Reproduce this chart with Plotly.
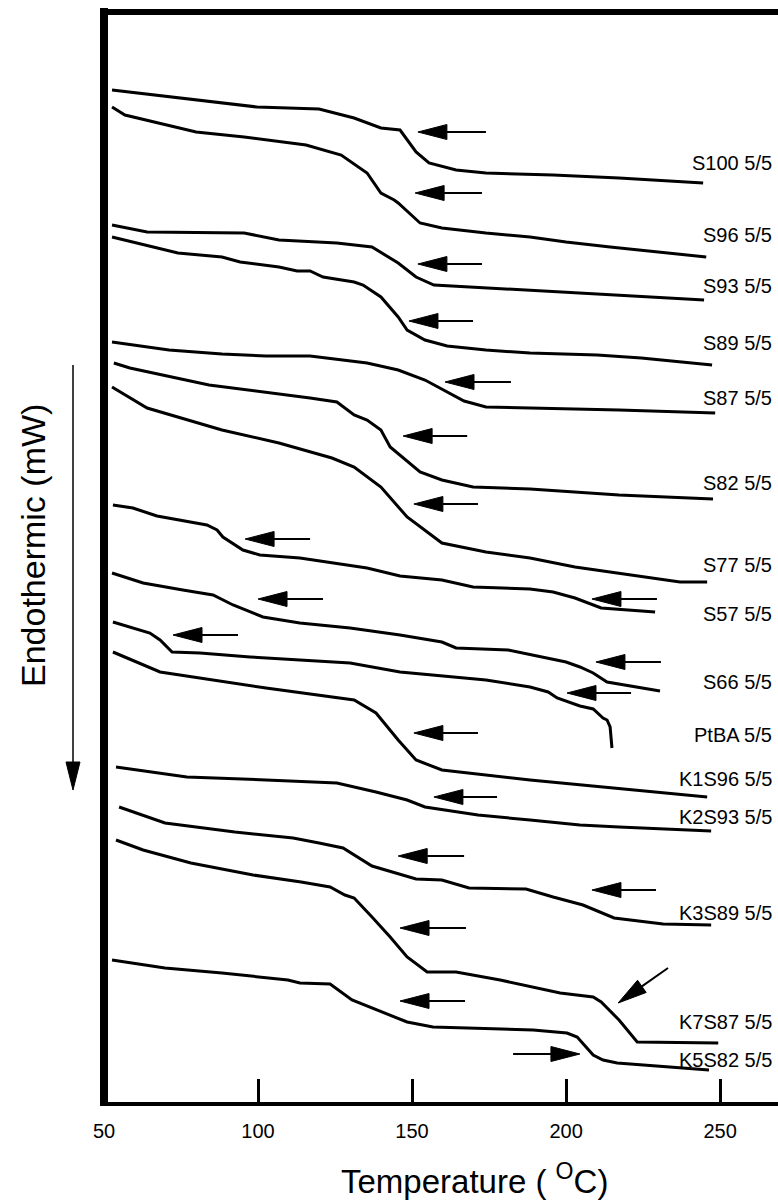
import math
import plotly.graph_objects as go

# ---------------- data: temperature (deg C) and heat flow (arbitrary, offset curves) -------------
T_S100 = [52.6, 79.9, 99.7, 119.8, 131.2, 139.9, 146.1, 151.3, 155.5, 164.3, 174.0, 195.8, 217.2, 244.5]
Q_S100 = [101.3, 100.3, 99.6, 99.4, 98.5, 97.5, 97.3, 95.1, 94.0, 93.3, 93.0, 92.8, 92.5, 92.0]

T_S96 = [52.6, 56.8, 79.9, 95.5, 115.6, 127.0, 135.4, 139.9, 144.2, 145.5, 152.6, 159.7, 174.0, 188.3, 200.0, 214.3, 245.5]
Q_S96 = [99.6, 98.8, 97.1, 96.6, 95.8, 94.8, 93.0, 91.0, 90.3, 90.0, 88.0, 87.5, 87.0, 86.6, 86.1, 85.6, 84.6]

T_S93 = [52.6, 64.0, 95.5, 106.8, 125.6, 137.0, 145.5, 151.3, 157.1, 174.0, 202.9, 244.8]
Q_S93 = [87.8, 87.1, 87.0, 86.3, 86.0, 85.6, 84.0, 82.6, 81.8, 81.5, 81.0, 80.3]

T_S89 = [52.6, 74.0, 88.3, 94.2, 106.8, 112.7, 116.9, 121.1, 131.2, 134.1, 139.9, 145.5, 148.4, 154.2, 161.4, 174.0, 188.3, 210.1, 224.4, 247.4]
Q_S89 = [86.6, 85.0, 84.6, 84.1, 83.6, 83.2, 83.2, 82.6, 82.1, 81.8, 80.6, 78.6, 77.3, 76.3, 75.7, 75.3, 75.0, 74.8, 74.5, 73.8]

T_S87 = [52.6, 71.1, 88.3, 102.6, 116.9, 135.4, 145.5, 154.2, 166.9, 174.0, 188.3, 217.2, 248.4]
Q_S87 = [76.1, 75.3, 74.9, 74.7, 74.7, 74.0, 73.3, 72.3, 70.2, 69.6, 69.5, 69.3, 69.0]

T_S82 = [53.2, 58.4, 84.1, 102.6, 116.9, 125.6, 131.2, 135.4, 139.9, 142.9, 152.6, 159.7, 169.8, 188.3, 217.2, 247.7]
Q_S82 = [74.0, 73.5, 71.8, 71.1, 70.5, 70.1, 68.8, 68.3, 67.3, 65.6, 63.1, 62.3, 61.6, 61.4, 60.8, 60.4]

T_S77 = [52.6, 59.7, 64.0, 88.3, 106.8, 124.0, 131.2, 139.9, 148.4, 159.7, 174.0, 188.3, 202.9, 237.0, 245.8]
Q_S77 = [71.6, 70.3, 69.5, 67.3, 66.0, 64.5, 63.6, 61.6, 58.6, 56.0, 55.1, 54.5, 53.6, 52.1, 52.1]

T_S57 = [52.9, 59.4, 67.2, 75.6, 83.4, 86.7, 88.6, 95.1, 100.6, 113.6, 124.4, 135.4, 146.1, 159.7, 169.8, 188.3, 195.8, 202.9, 211.4, 228.9]
Q_S57 = [59.8, 59.5, 58.7, 58.2, 57.8, 57.3, 56.6, 55.3, 54.8, 54.5, 54.0, 53.5, 52.7, 52.3, 51.6, 51.4, 51.1, 50.5, 49.5, 49.1]

T_S66 = [52.6, 62.7, 75.6, 85.4, 91.9, 101.6, 113.6, 129.9, 146.1, 159.7, 164.3, 181.2, 200.0, 204.5, 208.8, 213.3, 230.5]
Q_S66 = [53.0, 52.0, 51.3, 50.8, 49.8, 48.6, 48.0, 47.5, 46.8, 46.1, 45.5, 45.3, 44.1, 43.6, 43.0, 42.1, 41.2]

T_PTBA = [52.9, 58.4, 64.9, 68.2, 72.1, 81.2, 97.4, 113.6, 129.9, 146.1, 174.0, 188.3, 194.2, 197.1, 204.5, 208.8, 212.0, 213.3, 214.3, 214.9]
Q_PTBA = [48.1, 47.6, 47.0, 46.3, 45.1, 45.0, 44.6, 44.3, 44.0, 43.1, 42.3, 41.6, 41.1, 40.5, 39.7, 39.4, 38.5, 38.3, 37.6, 35.5]

T_K1S96 = [52.9, 68.2, 102.6, 131.2, 138.3, 145.5, 151.3, 159.7, 188.3, 204.5, 231.5, 245.8]
Q_K1S96 = [45.1, 43.1, 41.5, 40.3, 39.0, 36.3, 34.3, 33.3, 32.3, 31.8, 31.0, 30.6]

T_K2S93 = [53.9, 76.9, 102.6, 125.6, 138.3, 148.4, 154.2, 171.4, 188.3, 204.5, 217.2, 247.1]
Q_K2S93 = [33.6, 32.6, 32.3, 32.0, 31.1, 30.3, 29.6, 28.8, 28.3, 27.8, 27.6, 27.2]

T_K3S89 = [54.9, 69.8, 92.5, 111.4, 119.8, 127.6, 137.0, 151.3, 159.7, 168.5, 187.0, 195.8, 205.5, 215.6, 231.5, 247.1]
Q_K3S89 = [29.6, 28.0, 27.1, 26.5, 26.0, 25.5, 23.7, 22.4, 22.3, 21.5, 21.4, 20.6, 19.8, 18.5, 17.9, 17.8]

T_K7S87 = [53.9, 62.7, 78.2, 98.4, 114.0, 123.4, 128.2, 131.2, 137.0, 142.9, 148.4, 154.9, 164.3, 178.6, 198.1, 208.8, 211.4, 217.2, 223.1, 249.4]
Q_K7S87 = [26.3, 25.3, 24.0, 22.8, 22.1, 21.6, 20.8, 20.5, 18.6, 16.6, 14.6, 13.1, 13.1, 12.3, 11.0, 10.6, 10.1, 8.3, 6.1, 6.0]

T_K5S82 = [52.6, 69.8, 88.3, 109.7, 113.6, 123.4, 130.5, 148.4, 156.8, 167.9, 189.3, 200.3, 203.6, 208.8, 212.0, 216.6, 237.0, 246.4]
Q_K5S82 = [14.3, 13.5, 13.0, 12.3, 12.0, 11.9, 10.3, 8.1, 7.6, 7.5, 7.3, 7.0, 6.6, 4.8, 4.3, 4.0, 3.5, 3.3]

CURVE_NAMES = ["S100 5/5", "S96 5/5", "S93 5/5", "S89 5/5", "S87 5/5", "S82 5/5", "S77 5/5",
               "S57 5/5", "S66 5/5", "PtBA 5/5", "K1S96 5/5", "K2S93 5/5", "K3S89 5/5",
               "K7S87 5/5", "K5S82 5/5"]
CURVE_T = [T_S100, T_S96, T_S93, T_S89, T_S87, T_S82, T_S77, T_S57, T_S66, T_PTBA,
           T_K1S96, T_K2S93, T_K3S89, T_K7S87, T_K5S82]
CURVE_Q = [Q_S100, Q_S96, Q_S93, Q_S89, Q_S87, Q_S82, Q_S77, Q_S57, Q_S66, Q_PTBA,
           Q_K1S96, Q_K2S93, Q_K3S89, Q_K7S87, Q_K5S82]
LABEL_Q = [94.0, 86.8, 81.7, 76.0, 70.5, 62.0, 53.8, 48.9, 42.1, 36.8, 32.4, 28.6, 19.0, 8.1, 4.3]

# Tg marker arrows (tip and tail, in data units)
ARROW_TIP_T = [151.9, 151.0, 151.9, 149.0, 160.7, 147.1, 150.6, 95.8, 208.4, 100.0, 209.7, 72.4,
               200.3, 150.6, 157.1, 145.5, 208.4, 146.1, 216.9, 146.1, 204.5]
ARROW_TIP_Q = [97.1, 91.0, 83.9, 78.2, 72.1, 66.7, 59.9, 56.4, 50.4, 50.4, 44.1, 46.8,
               41.0, 37.0, 30.6, 24.7, 21.3, 17.5, 10.0, 10.2, 4.9]
ARROW_TAIL_T = [174.0, 172.7, 172.7, 169.8, 182.1, 167.9, 171.4, 116.9, 229.5, 121.1, 230.8, 93.5,
                221.1, 171.4, 177.6, 166.9, 229.2, 167.5, 233.1, 167.2, 182.8]
ARROW_TAIL_Q = [97.1, 91.0, 83.9, 78.2, 72.1, 66.7, 59.9, 56.4, 50.4, 50.4, 44.1, 46.8,
                41.0, 37.0, 30.6, 24.7, 21.3, 17.5, 13.5, 10.2, 4.9]

X_TICKS = [50, 100, 150, 200, 250]

# ---------------- layout geometry ----------------
W, H = 778, 1204
ML, MR, MT, MB = 104, 0, 12, 101
X_RANGE = [50, 268.8]
Y_RANGE = [0, 109.1]
PW, PH = W - ML - MR, H - MT - MB
KX = PW / (X_RANGE[1] - X_RANGE[0])   # px per deg C
KY = PH / (Y_RANGE[1] - Y_RANGE[0])   # px per unit

FONT = "Liberation Sans, Arial, Helvetica, sans-serif"

fig = go.Figure()
for name, t, q in zip(CURVE_NAMES, CURVE_T, CURVE_Q):
    fig.add_trace(go.Scatter(x=t, y=q, mode="lines", name=name,
                             line=dict(color="black", width=3), showlegend=False,
                             hoverinfo="skip"))

shapes = []
HEAD_LEN, HEAD_HALF = 29.0, 7.5


def arrow_shapes(tx, ty, sx, sy, kx, ky, xref, yref, head_len, head_half, lw):
    dx, dy = (tx - sx) * kx, (ty - sy) * ky
    L = math.hypot(dx, dy)
    ux, uy = dx / L, dy / L
    bx, by = tx - head_len * ux / kx, ty - head_len * uy / ky
    px, py = -uy, ux
    v1 = (bx + head_half * px / kx, by + head_half * py / ky)
    v2 = (bx - head_half * px / kx, by - head_half * py / ky)
    out = [dict(type="line", xref=xref, yref=yref, x0=sx, y0=sy, x1=bx, y1=by,
                line=dict(color="black", width=lw)),
           dict(type="path", xref=xref, yref=yref,
                path=f"M{tx},{ty} L{v1[0]},{v1[1]} L{v2[0]},{v2[1]} Z",
                fillcolor="black", line=dict(color="black", width=1))]
    return out


for tx, ty, sx, sy in zip(ARROW_TIP_T, ARROW_TIP_Q, ARROW_TAIL_T, ARROW_TAIL_Q):
    shapes += arrow_shapes(tx, ty, sx, sy, KX, KY, "x", "y", HEAD_LEN, HEAD_HALF, 2)

# frame (thick left and top lines, bottom axis)
shapes.append(dict(type="line", xref="paper", yref="paper", x0=0, x1=0,
                   y0=-3 / PH, y1=1 + 4 / PH, line=dict(color="black", width=8)))
shapes.append(dict(type="line", xref="paper", yref="paper", x0=-4 / PW, x1=1,
                   y0=1, y1=1, line=dict(color="black", width=6)))
shapes.append(dict(type="line", xref="paper", yref="paper", x0=-4 / PW, x1=1,
                   y0=-1 / PH, y1=-1 / PH, line=dict(color="black", width=4)))

# y-title arrow (paper coordinates)
shapes += arrow_shapes((73 - ML) / PW, (H - MB - 790) / PH, (73 - ML) / PW, (H - MB - 365) / PH,
                       PW, PH, "paper", "paper", 28, 7, 1.5)

annotations = []
for name, qy in zip(CURVE_NAMES, LABEL_Q):
    annotations.append(dict(x=267.5, y=qy, xref="x", yref="y", text=name, showarrow=False,
                            xanchor="right", yanchor="middle",
                            font=dict(family=FONT, size=20, color="black")))

annotations.append(dict(x=(474 - ML) / PW, y=(H - MB - 1179) / PH, xref="paper", yref="paper",
                        text="Temperature ( <sup>O</sup>C)", showarrow=False,
                        xanchor="center", yanchor="middle",
                        font=dict(family=FONT, size=33, color="black")))
annotations.append(dict(x=(33 - ML) / PW, y=(H - MB - 546) / PH, xref="paper", yref="paper",
                        text="Endothermic (mW)", showarrow=False, textangle=-90,
                        xanchor="center", yanchor="middle",
                        font=dict(family=FONT, size=34, color="black")))

fig.update_layout(
    width=W, height=H,
    margin=dict(l=ML, r=MR, t=MT, b=MB, pad=0),
    paper_bgcolor="white", plot_bgcolor="white",
    shapes=shapes, annotations=annotations,
    xaxis=dict(range=X_RANGE, tickvals=X_TICKS, ticktext=[str(v) for v in X_TICKS],
               ticks="inside", ticklen=24, tickwidth=2.5, tickcolor="black",
               showgrid=False, zeroline=False, showline=False,
               tickfont=dict(family=FONT, size=20, color="black"),
               ticklabelstandoff=14, fixedrange=True),
    yaxis=dict(range=Y_RANGE, showticklabels=False, ticks="", showgrid=False,
               zeroline=False, showline=False, fixedrange=True),
    showlegend=False,
)

fig.write_html("out.html")
